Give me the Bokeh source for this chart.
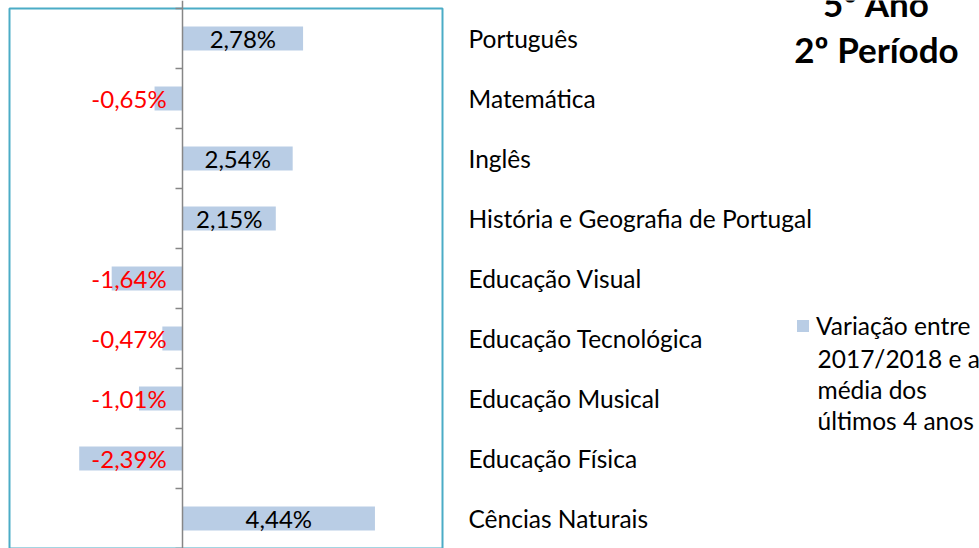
from bokeh.plotting import figure
from bokeh.models import (ColumnDataSource, Range1d, FixedTicker, LinearAxis,
                          Label, Legend, LegendItem)
from bokeh.core.properties import value
from bokeh.embed import file_html
from bokeh.resources import INLINE

# ---- data ----
categories = ["Português", "Matemática", "Inglês",
              "História e Geografia de Portugal", "Educação Visual",
              "Educação Tecnológica", "Educação Musical", "Educação Física",
              "Cências Naturais"]
values = [2.78, -0.65, 2.54, 2.15, -1.64, -0.47, -1.01, -2.39, 4.44]
legend_lines = ["Variação entre", "2017/2018 e a", "média dos", "últimos 4 anos"]
title_lines = ["5º Ano", "2º Período"]
x_min, x_max = -4, 6


def fmt(v):
    return f"{v:.2f}".replace(".", ",") + "%"


# ---- layout / style ----
W, H = 979, 548
BOX_LEFT, BOX_W, BOX_TOP, ROW_H = 9, 433, 8, 60
FONT = "Lato"
FS_CAT = "24.5px"
FS_VAL = "24px"
BAR = "#B9CDE5"
BORDER = "#4BACC6"
AXIS = "#868686"

n = len(categories)
ys = list(range(n))
scale = BOX_W / (x_max - x_min)          # px per unit
x_start = x_min - BOX_LEFT / scale
x_end = x_start + W / scale
y_top = -0.5 - BOX_TOP / ROW_H
y_bot = y_top + H / ROW_H

p = figure(width=W, height=H,
           x_range=Range1d(x_start, x_end), y_range=Range1d(y_bot, y_top),
           output_backend="svg", toolbar_location=None,
           x_axis_location=None, y_axis_location=None,
           min_border_left=0, min_border_right=0,
           min_border_top=0, min_border_bottom=0)
p.grid.visible = False
p.outline_line_color = None
p.background_fill_color = "white"
p.border_fill_color = "white"

# plot-area box
p.quad(left=[x_min], right=[x_max], top=[-0.5], bottom=[n - 0.5],
       fill_color=None, line_color=BORDER, line_width=2)

# central vertical axis at x = 0 with ticks between categories
cax = LinearAxis(fixed_location=0,
                 ticker=FixedTicker(ticks=[i - 0.5 for i in range(n + 1)]),
                 major_tick_in=0, major_tick_out=7,
                 minor_tick_line_color=None,
                 major_label_text_color=None,
                 axis_line_color=AXIS, axis_line_width=1.5,
                 major_tick_line_color=AXIS, major_tick_line_width=1.5)
p.add_layout(cax, "left")

src = ColumnDataSource(dict(y=ys, v=values, cat=categories,
                            xl=[x_max] * n))
bars = p.hbar(y="y", left=0, right="v", height=0.4, fill_color=BAR,
              line_color=None, source=src)

# category labels right of the box
p.text(x="xl", y="y", text="cat", source=src, x_offset=26,
       text_align="left", text_baseline="middle", text_font=value(FONT),
       text_font_size=FS_CAT, text_color="black")

# data labels
pos = [i for i, v in enumerate(values) if v >= 0]
neg = [i for i, v in enumerate(values) if v < 0]
pos_src = ColumnDataSource(dict(x=[values[i] / 2 for i in pos], y=pos,
                                t=[fmt(values[i]) for i in pos]))
neg_src = ColumnDataSource(dict(x=[0] * len(neg), y=neg,
                                t=[fmt(values[i]) for i in neg]))
p.text(x="x", y="y", text="t", source=pos_src, text_align="center",
       text_baseline="middle", text_font=value(FONT), text_font_size=FS_VAL,
       text_color="black")
p.text(x="x", y="y", text="t", source=neg_src, text_align="right",
       text_baseline="middle", x_offset=-16, text_font=value(FONT),
       text_font_size=FS_VAL, text_color="#FF0000")

# title (top right); screen y measured from the bottom
for txt, yc in zip(title_lines, [2, 48]):
    p.add_layout(Label(x=876, y=H - yc, x_units="screen", y_units="screen",
                       text=txt, text_align="center",
                       text_baseline="middle", text_font=FONT,
                       text_font_size="35px", text_font_style="bold",
                       text_color="black"))

# legend
legend = Legend(items=[LegendItem(label=legend_lines[0], renderers=[bars])],
                location=(795, 208), padding=0, margin=0,
                border_line_color=None, background_fill_alpha=0,
                glyph_width=15, glyph_height=15, label_standoff=6,
                label_text_font=FONT, label_text_font_size=FS_CAT,
                label_text_color="black")
p.add_layout(legend)
for txt, yc in zip(legend_lines[1:], [358, 389, 420]):
    p.add_layout(Label(x=817, y=H - yc, x_units="screen", y_units="screen",
                       text=txt, text_align="left",
                       text_baseline="middle", text_font=FONT,
                       text_font_size=FS_CAT, text_color="black"))

open("out.html", "w").write(file_html(p, INLINE))
